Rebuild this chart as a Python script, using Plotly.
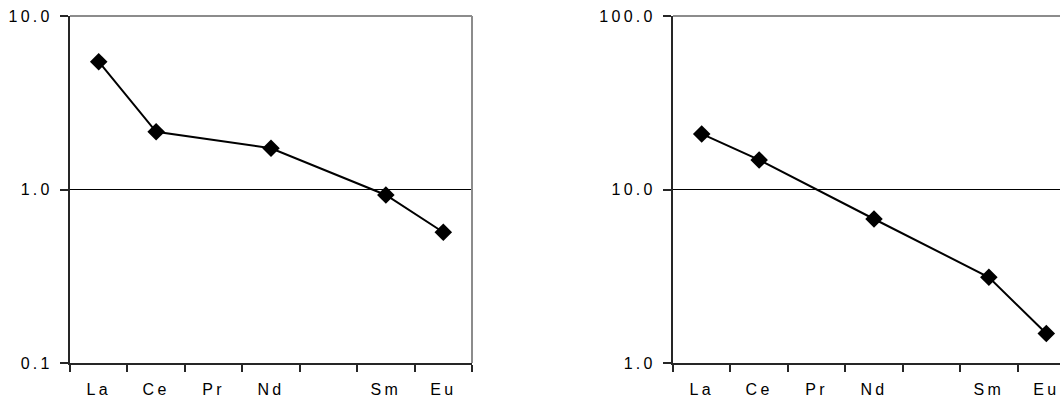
import math
import plotly.graph_objects as go

# Rare-earth element categories (blank slot keeps the Pm position)
elements = ["La", "Ce", "Pr", "Nd", " ", "Sm", "Eu"]

# Chondrite-normalised values, one series per panel (None = not analysed)
left_values = [5.45, 2.15, None, 1.73, None, 0.93, 0.567]
right_values = [20.9, 14.8, None, 6.76, None, 3.12, 1.48]

# Log-axis decade labels
left_ticks = [0.1, 1.0, 10.0]
right_ticks = [1.0, 10.0, 100.0]

W, H = 1060, 403
FONT = dict(family="Liberation Sans, Arial, sans-serif", size=16, color="#000000")
AXIS_DARK = "#262626"
FRAME_GRAY = "#8c8c8c"

fig = go.Figure()

for vals, xa, ya in [(left_values, "x", "y"), (right_values, "x2", "y2")]:
    fig.add_trace(go.Scatter(
        x=elements, y=vals, xaxis=xa, yaxis=ya,
        mode="lines+markers", connectgaps=True,
        line=dict(color="#000000", width=2),
        marker=dict(symbol="diamond", size=13.5, color="#000000"),
        showlegend=False, hoverinfo="skip",
    ))

y_dom = [1 - 363 / H, 1 - 16 / H]
left_dom = [70 / W, 472 / W]
right_dom = [673 / W, 1.0]
slot_px = (472 - 70) / len(elements)
right_extent = (W - 673) / slot_px  # panel runs past the window edge


def x_axis(domain, rng, anchor):
    return dict(
        domain=domain, anchor=anchor, type="category",
        categoryorder="array", categoryarray=elements,
        range=rng, tickson="boundaries", ticks="outside", ticklen=7,
        tickwidth=1.5, tickcolor=AXIS_DARK, showline=True, linewidth=2,
        linecolor=AXIS_DARK, showgrid=False, zeroline=False,
        tickfont=FONT, fixedrange=True, automargin=False,
        ticklabelstandoff=11,
    )


def y_axis(domain, ticks, anchor):
    return dict(
        domain=domain, anchor=anchor, type="log",
        range=[math.log10(ticks[0]), math.log10(ticks[-1])],
        tickvals=ticks, tickformat=".1f", ticks="outside", ticklen=8,
        tickwidth=1.5, tickcolor=AXIS_DARK, showline=True, linewidth=2,
        linecolor=AXIS_DARK, showgrid=True, gridcolor="#000000", gridwidth=1,
        zeroline=False, tickfont=FONT, fixedrange=True, automargin=False,
        ticklabelstandoff=4,
    )


fig.update_layout(
    width=W, height=H,
    margin=dict(l=0, r=0, t=0, b=0),
    paper_bgcolor="#ffffff", plot_bgcolor="#ffffff",
    xaxis=x_axis(left_dom, [-0.5, len(elements) - 0.5], "y"),
    yaxis=y_axis(y_dom, left_ticks, "x"),
    xaxis2=x_axis(right_dom, [-0.5, -0.5 + right_extent], "y2"),
    yaxis2=y_axis(y_dom, right_ticks, "x2"),
    shapes=[
        # gray plot-area frame: top and right edges of the left panel
        dict(type="line", xref="x domain", yref="y domain", x0=0, x1=1, y0=1, y1=1,
             line=dict(color=FRAME_GRAY, width=2), layer="above"),
        dict(type="line", xref="x domain", yref="y domain", x0=1, x1=1, y0=0, y1=1,
             line=dict(color=FRAME_GRAY, width=2), layer="above"),
        # top edge of the right panel
        dict(type="line", xref="x2 domain", yref="y2 domain", x0=0, x1=1, y0=1, y1=1,
             line=dict(color=FRAME_GRAY, width=2), layer="above"),
    ],
)

# widen the tick-label letter spacing on both panels, re-applied after redraws
spacing_js = """
var gd = document.getElementById('{plot_id}');
function spaceLabels() {
  gd.querySelectorAll('.xtick text, .ytick text, .x2tick text, .y2tick text')
    .forEach(function (t) { t.style.letterSpacing = '3.3px'; });
}
spaceLabels();
gd.on('plotly_afterplot', spaceLabels);
"""

fig.write_html("out.html", post_script=spacing_js)
